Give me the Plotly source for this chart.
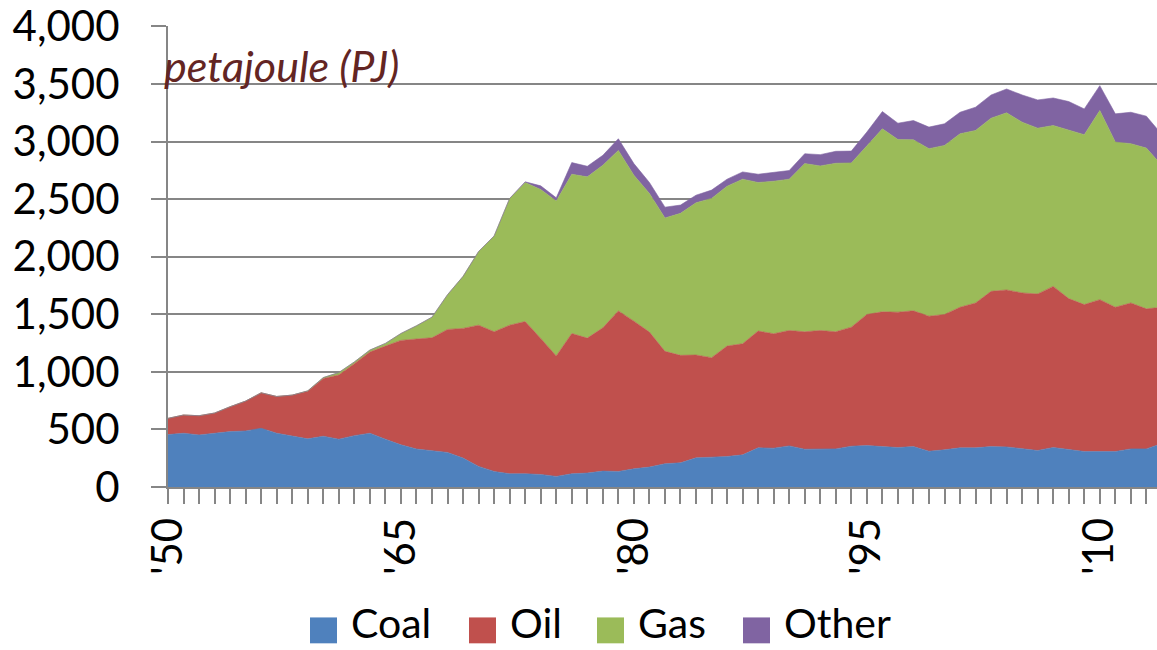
import plotly.graph_objects as go

years = list(range(1950, 2015))

coal = [455, 467, 452, 467, 481, 487, 510, 467, 441, 418,
        441, 415, 446, 467, 415, 366, 330, 317, 300, 251,
        179, 135, 115, 115, 109, 92, 115, 121, 138, 135,
        158, 173, 202, 210, 253, 259, 265, 279, 340, 337,
        357, 328, 328, 331, 354, 360, 351, 343, 351, 311,
        323, 340, 340, 351, 348, 331, 317, 343, 325, 308,
        308, 308, 331, 331, 378]

oil = [141, 158, 167, 175, 216, 259, 308, 319, 357, 414,
       501, 558, 625, 705, 809, 907, 955, 979, 1068, 1126,
       1226, 1213, 1290, 1322, 1181, 1046, 1218, 1172, 1244, 1394,
       1282, 1172, 976, 933, 893, 864, 959, 965, 1014, 994,
       1002, 1020, 1031, 1017, 1034, 1138, 1170, 1175, 1179, 1172,
       1175, 1221, 1258, 1348, 1363, 1354, 1359, 1399, 1311, 1276,
       1319, 1253, 1267, 1216, 1182]

gas = [0, 0, 0, 0, 0, 0, 0, 0, 0, 3,
       8, 21, 15, 17, 23, 60, 115, 179, 302, 452,
       640, 832, 1101, 1207, 1293, 1345, 1383, 1400, 1412, 1394,
       1267, 1204, 1158, 1233, 1322, 1383, 1388, 1429, 1290, 1324,
       1314, 1460, 1429, 1463, 1426, 1463, 1589, 1500, 1485, 1455,
       1468, 1506, 1498, 1504, 1538, 1483, 1440, 1397, 1460, 1475,
       1642, 1434, 1383, 1396, 1230]

other = [0, 0, 0, 0, 0, 0, 0, 0, 0, 0,
         0, 0, 0, 0, 0, 0, 0, 0, 0, 0,
         0, 0, 0, 6, 32, 28, 101, 92, 86, 101,
         101, 95, 94, 72, 66, 72, 61, 63, 72, 75,
         75, 86, 98, 104, 103, 121, 150, 141, 167, 187,
         188, 187, 202, 201, 207, 236, 245, 239, 251, 224,
         216, 245, 273, 277, 270]

series_names = ["Coal", "Oil", "Gas", "Other"]
series_values = [coal, oil, gas, other]
colors = ["#4F81BD", "#C0504D", "#9BBB59", "#8064A2"]

tick_years = [1950, 1965, 1980, 1995, 2010]
tick_labels = ["'50", "'65", "'80", "'95", "'10"]

unit_label = "petajoule (PJ)"

FONT = "Lato"
GRAY = "#868686"

fig = go.Figure()
for name, vals, col in zip(series_names, series_values, colors):
    fig.add_trace(go.Scatter(
        x=years, y=vals, name=name, mode="lines",
        stackgroup="one", line=dict(width=0.6, color=col),
        fillcolor=col, showlegend=False,
    ))

W, H = 1157, 650
ml, mr, mt, mb = 168, 0, 24, 163
pw, ph = W - ml - mr, H - mt - mb

fig.update_layout(
    width=W, height=H,
    margin=dict(l=ml, r=mr, t=mt, b=mb),
    plot_bgcolor="white", paper_bgcolor="white",
    showlegend=False,
    font=dict(family=FONT, color="black"),
    xaxis=dict(
        range=[1950, 1950 + pw / 15.53],
        tickmode="array", tickvals=tick_years, ticktext=tick_labels,
        tickangle=-90, tickfont=dict(size=42, family=FONT, color="black"),
        ticks="outside", ticklen=15, tickwidth=2, tickcolor=GRAY,
        showline=True, linecolor=GRAY, linewidth=2,
        showgrid=False, zeroline=False,
        ticklabelstandoff=-3, ticklabeloverflow="allow",
        minor=dict(dtick=1, tick0=1950, ticks="outside", ticklen=15,
                   tickwidth=2, tickcolor=GRAY, showgrid=False),
    ),
    yaxis=dict(
        range=[0, 4003], tickmode="array",
        tickvals=[0, 500, 1000, 1500, 2000, 2500, 3000, 3500, 4000],
        tickformat=",",
        tickfont=dict(size=42, family=FONT, color="black"),
        ticks="outside", ticklen=15, tickwidth=2, tickcolor=GRAY,
        showline=True, linecolor=GRAY, linewidth=2,
        showgrid=True, gridcolor=GRAY, gridwidth=2,
        zeroline=False, ticklabelstandoff=23, ticklabeloverflow="allow",
    ),
)

def px_x(x):
    return (x - ml) / pw

def px_y(y):
    return (mt + ph - y) / ph

fig.add_annotation(
    text=unit_label, xref="paper", yref="paper",
    x=px_x(162), y=px_y(64), xanchor="left", yanchor="middle",
    showarrow=False,
    font=dict(family=FONT, size=43, color="#632523", style="italic"),
)

# legend (drawn manually to match square swatches)
legend_sq_left = [310, 469, 597, 743]
for name, col, sx in zip(series_names, colors, legend_sq_left):
    fig.add_shape(
        type="rect", xref="paper", yref="paper",
        x0=px_x(sx), x1=px_x(sx + 27), y0=px_y(644), y1=px_y(618),
        fillcolor=col, line=dict(width=0),
    )
    fig.add_annotation(
        text=name, xref="paper", yref="paper",
        x=px_x(sx + 40), y=px_y(649), xanchor="left", yanchor="bottom",
        showarrow=False, borderpad=0,
        font=dict(family=FONT, size=41, color="black"),
    )

fig.write_html(
    "out.html",
    config={"displayModeBar": False},
    post_script="document.body.style.margin='0px';document.body.style.padding='0px';",
)
